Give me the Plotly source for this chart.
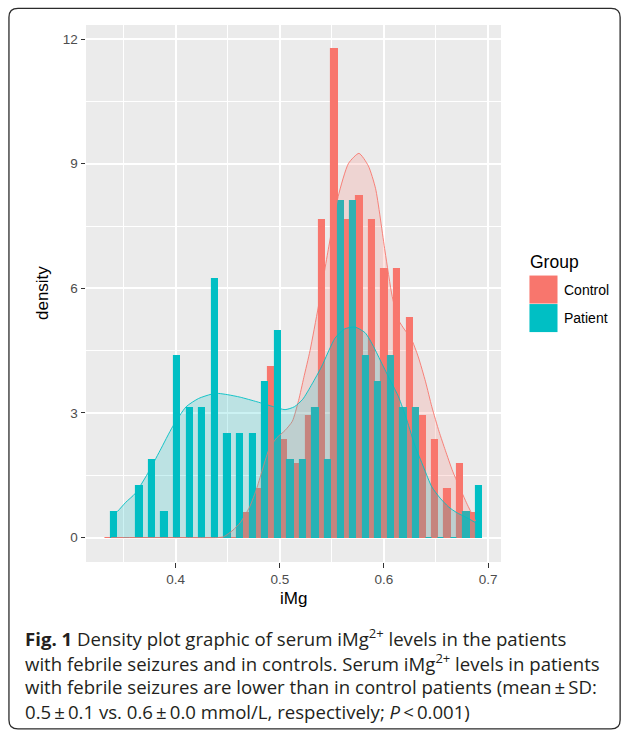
import plotly.graph_objects as go

# ---------------- data ----------------
bin_centers = [0.3380, 0.3501, 0.3621, 0.3742, 0.3863, 0.3984, 0.4105, 0.4225,
               0.4346, 0.4467, 0.4588, 0.4709, 0.4829, 0.4950, 0.5071, 0.5192,
               0.5312, 0.5433, 0.5554, 0.5675, 0.5796, 0.5916, 0.6037, 0.6158,
               0.6279, 0.6400, 0.6520, 0.6641, 0.6762, 0.6883]

control_hist = [0, 0, 0, 0, 0, 0, 0, 0, 0, 0, 0,
                0.588, 1.175, 4.113, 2.350, 1.763, 2.938, 7.639, 11.752, 7.639,
                8.226, 7.639, 6.464, 6.464, 5.288, 2.938, 2.350, 1.175, 1.763, 0.588]

patient_hist = [0.623, 0, 1.246, 1.869, 0.623, 4.361, 3.115, 3.115, 6.230, 2.492,
                2.492, 2.492, 3.738, 4.984, 1.869, 1.869, 3.115, 1.869, 8.099, 8.099,
                4.361, 3.738, 4.361, 3.115, 3.115, 0, 0, 0, 0.623, 1.246]

control_dens_x = [0.338, 0.400, 0.440, 0.446, 0.455, 0.462, 0.471, 0.478, 0.484, 0.490,
                  0.497, 0.505, 0.512, 0.518, 0.523, 0.529, 0.537, 0.547, 0.556, 0.566,
                  0.576, 0.585, 0.592, 0.601, 0.608, 0.614, 0.620, 0.626, 0.633, 0.640,
                  0.646, 0.653, 0.659, 0.666, 0.672, 0.680, 0.688]
control_dens_y = [0.0, 0.0, 0.0, 0.02, 0.18, 0.36, 0.74, 1.20, 1.70, 2.15,
                  2.40, 2.58, 2.80, 3.30, 3.85, 4.50, 5.56, 7.00, 8.21, 9.01,
                  9.25, 8.95, 8.40, 6.90, 5.80, 5.24, 5.00, 4.80, 4.35, 3.75,
                  3.15, 2.55, 2.10, 1.60, 1.25, 0.80, 0.40]

patient_dens_x = [0.338, 0.344, 0.352, 0.361, 0.373, 0.385, 0.397, 0.410, 0.422, 0.434,
                  0.441, 0.450, 0.462, 0.478, 0.494, 0.505, 0.514, 0.522, 0.531, 0.540,
                  0.553, 0.562, 0.572, 0.582, 0.590, 0.598, 0.606, 0.614, 0.622, 0.630,
                  0.638, 0.646, 0.654, 0.662, 0.670, 0.678, 0.688]
patient_dens_y = [0.52, 0.63, 0.85, 1.06, 1.54, 2.10, 2.67, 3.15, 3.35, 3.45,
                  3.47, 3.44, 3.38, 3.27, 3.15, 3.08, 3.15, 3.33, 3.70, 4.11,
                  4.80, 5.02, 5.07, 4.93, 4.60, 4.19, 3.79, 3.39, 2.83, 2.20,
                  1.70, 1.22, 0.95, 0.74, 0.60, 0.50, 0.36]

groups = ["Control", "Patient"]
x_ticks = [0.4, 0.5, 0.6, 0.7]
y_ticks = [0, 3, 6, 9, 12]

caption_lines = [
    "<b>Fig. 1</b> Density plot graphic of serum iMg<sup>2+</sup> levels in the patients",
    "with febrile seizures and in controls. Serum iMg<sup>2+</sup> levels in patients",
    "with febrile seizures are lower than in control patients (mean\u2009\u00b1\u2009SD:",
    "0.5\u2009\u00b1\u20090.1 vs. 0.6\u2009\u00b1\u20090.0 mmol/L, respectively; <i>P</i>\u2009&lt;\u20090.001)",
]

# ---------------- style ----------------
C_RED = "#F8766D"
C_TEAL = "#00BFC4"
BINW = bin_centers[1] - bin_centers[0]
W, H = 625, 732
PX0, PX1, PY0, PY1 = 86.4, 500.6, 25.2, 561.7   # panel in pixels
X_RANGE = [0.3138, 0.71246]
Y_RANGE = [-0.5876, 12.34]
FONT = "Liberation Sans, Arial, Helvetica, sans-serif"
CAP_FONT = "Open Sans, Noto Sans, sans-serif"


def px(xp):
    return (xp - PX0) / (PX1 - PX0)


def py(yp):
    return (PY1 - yp) / (PY1 - PY0)


fig = go.Figure()

ctrl_x = [c - BINW / 4 for c in bin_centers]
pat_x = [c + BINW / 4 for c in bin_centers]

fig.add_trace(go.Bar(x=ctrl_x, y=control_hist, width=BINW / 2, name="Control",
                     marker=dict(color=C_RED, line=dict(color=C_RED, width=1.1)),
                     showlegend=False))
fig.add_trace(go.Bar(x=pat_x, y=patient_hist, width=BINW / 2, name="Patient",
                     marker=dict(color=C_TEAL, line=dict(color=C_TEAL, width=1.1)),
                     showlegend=False))

fig.add_trace(go.Scatter(x=control_dens_x, y=control_dens_y, mode="lines",
                         line=dict(color=C_RED, width=0.9, shape="spline", smoothing=0.6),
                         fill="tozeroy", fillcolor="rgba(248,118,109,0.2)",
                         showlegend=False, name="Control density"))
fig.add_trace(go.Scatter(x=patient_dens_x, y=patient_dens_y, mode="lines",
                         line=dict(color=C_TEAL, width=0.9, shape="spline", smoothing=0.6),
                         fill="tozeroy", fillcolor="rgba(0,191,196,0.2)",
                         showlegend=False, name="Patient density"))

axis_common = dict(
    showgrid=True, gridcolor="white", gridwidth=1.6,
    minor=dict(showgrid=True, gridcolor="white", gridwidth=0.8),
    zeroline=False, showline=False,
    ticks="outside", ticklen=4.5, tickwidth=1.1, tickcolor="#333333",
    tickfont=dict(family=FONT, size=13.5, color="#4D4D4D"),
)

fig.update_xaxes(range=X_RANGE, tickmode="array", tickvals=x_ticks,
                 ticktext=[f"{v:.1f}" for v in x_ticks], **axis_common)
fig.update_xaxes(minor=dict(tickmode="array", tickvals=[0.35, 0.45, 0.55, 0.65], ticks=""))
fig.update_yaxes(range=Y_RANGE, tickmode="array", tickvals=y_ticks,
                 ticktext=[str(v) for v in y_ticks], **axis_common)
fig.update_yaxes(minor=dict(tickmode="array", tickvals=[1.5, 4.5, 7.5, 10.5], ticks=""))

annotations = []
# axis titles
annotations.append(dict(text="iMg", x=px((PX0 + PX1) / 2), y=py(598), xref="paper", yref="paper",
                        showarrow=False, xanchor="center", yanchor="middle",
                        font=dict(family=FONT, size=17, color="black")))
annotations.append(dict(text="density", x=px(43), y=py((PY0 + PY1) / 2), xref="paper", yref="paper",
                        showarrow=False, xanchor="center", yanchor="middle", textangle=-90,
                        font=dict(family=FONT, size=17, color="black")))
# legend (drawn manually to match ggplot key sizes)
annotations.append(dict(text="Group", x=px(528), y=py(262), xref="paper", yref="paper",
                        showarrow=False, xanchor="left", yanchor="middle",
                        font=dict(family=FONT, size=17.5, color="black")))
shapes = []
key_cols = [C_RED, C_TEAL]
key_tops = [275.5, 304.0]
for g, col, top in zip(groups, key_cols, key_tops):
    shapes.append(dict(type="rect", xref="paper", yref="paper",
                       x0=px(529), x1=px(557), y0=py(top + 28), y1=py(top),
                       fillcolor=col, line=dict(width=0)))
    annotations.append(dict(text=g, x=px(561), y=py(top + 14), xref="paper", yref="paper",
                            showarrow=False, xanchor="left", yanchor="middle",
                            font=dict(family=FONT, size=14, color="black")))
# caption
cap_y = [637, 661.7, 686.5, 711.5]
for line, yy in zip(caption_lines, cap_y):
    annotations.append(dict(text=line, x=px(24), y=py(yy), xref="paper", yref="paper",
                            showarrow=False, xanchor="left", yanchor="middle", align="left",
                            font=dict(family=CAP_FONT, size=18.6, color="#231F20")))

# rounded outer border
bx0, bx1, by0, by1, r = 9.5, 619.5, 8.5, 728.5, 9
path = (f"M {px(bx0 + r)},{py(by0)} L {px(bx1 - r)},{py(by0)} "
        f"Q {px(bx1)},{py(by0)} {px(bx1)},{py(by0 + r)} "
        f"L {px(bx1)},{py(by1 - r)} Q {px(bx1)},{py(by1)} {px(bx1 - r)},{py(by1)} "
        f"L {px(bx0 + r)},{py(by1)} Q {px(bx0)},{py(by1)} {px(bx0)},{py(by1 - r)} "
        f"L {px(bx0)},{py(by0 + r)} Q {px(bx0)},{py(by0)} {px(bx0 + r)},{py(by0)} Z")
shapes.append(dict(type="path", xref="paper", yref="paper", path=path,
                   line=dict(color="#2b2b2b", width=1.3), fillcolor="rgba(0,0,0,0)", layer="above"))

fig.update_layout(
    width=W, height=H,
    margin=dict(l=PX0, r=W - PX1, t=PY0, b=H - PY1, autoexpand=False),
    paper_bgcolor="white", plot_bgcolor="#EBEBEB",
    barmode="overlay", bargap=0,
    showlegend=False,
    annotations=annotations, shapes=shapes,
    font=dict(family=FONT),
)

fig.write_html("out.html", config={"displayModeBar": False},
               post_script="document.body.style.margin='0';")
